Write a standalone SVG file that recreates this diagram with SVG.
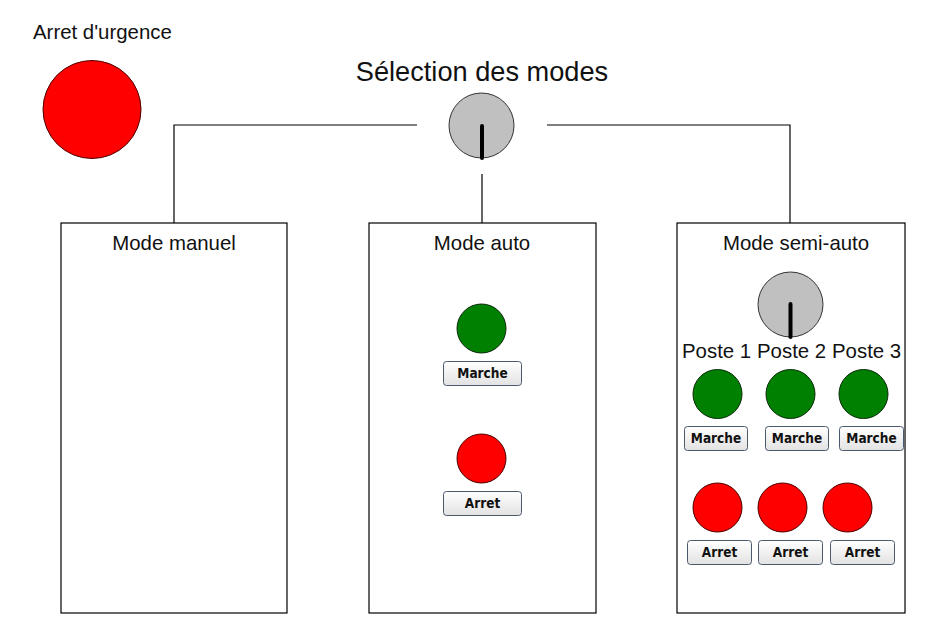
<svg xmlns="http://www.w3.org/2000/svg" width="950" height="624" viewBox="0 0 950 624">
<defs>
<linearGradient id="btn" x1="0" y1="0" x2="0" y2="1">
<stop offset="0" stop-color="#ffffff"/>
<stop offset="1" stop-color="#e2e2e2"/>
</linearGradient>
<style>
.lbl{font-family:"Liberation Sans",Arial,sans-serif;font-size:20.4px;fill:#111}
.box{fill:#fff;stroke:#000;stroke-width:1.2}
.wire{fill:none;stroke:#000;stroke-width:1.2}
.red{fill:#ff0000;stroke:#4a0000;stroke-width:1}
.green{fill:#008000;stroke:#0a2a0a;stroke-width:1}
.knob{fill:#c0c0c0;stroke:#333;stroke-width:1}
.needle{stroke:#000;stroke-width:4;stroke-linecap:round}
.btn rect{fill:url(#btn);stroke:#4a5a6e;stroke-width:1}
.btn text{font-family:"DejaVu Sans Condensed","DejaVu Sans",Tahoma,sans-serif;font-weight:bold;font-size:13.5px;fill:#111;text-anchor:middle}
</style>
</defs>
<rect width="950" height="624" fill="#fff"/>

<g id="connectors">
<path class="wire" d="M417,125 H174 V223"/>
<path class="wire" d="M547,125 H790 V223"/>
<path class="wire" d="M482,174 V223"/>
</g>

<g id="arret-urgence">
<text class="lbl" x="33" y="39">Arret d'urgence</text>
<circle class="red" cx="92" cy="109.5" r="49"/>
</g>

<g id="selection-modes">
<text class="lbl" x="482" y="81" text-anchor="middle" style="font-size:27.2px">Sélection des modes</text>
<circle class="knob" cx="481.5" cy="125.5" r="32.5"/>
<line class="needle" x1="482" y1="126" x2="482" y2="158"/>
</g>

<g id="mode-manuel">
<rect class="box" x="61" y="223" width="226" height="390"/>
<text class="lbl" x="174" y="250" text-anchor="middle">Mode manuel</text>
</g>

<g id="mode-auto">
<rect class="box" x="369" y="223" width="227" height="390"/>
<text class="lbl" x="482" y="250" text-anchor="middle">Mode auto</text>
<circle class="green" cx="481.5" cy="328.5" r="24.5"/>
<g class="btn"><rect x="443.5" y="361.5" width="78" height="24" rx="3"/><text x="482.5" y="378">Marche</text></g>
<circle class="red" cx="481.5" cy="458.5" r="24.5"/>
<g class="btn"><rect x="443.5" y="491.5" width="78" height="24" rx="3"/><text x="482.5" y="508">Arret</text></g>
</g>

<g id="mode-semi-auto">
<rect class="box" x="677" y="223" width="228" height="390"/>
<text class="lbl" x="796" y="250" text-anchor="middle">Mode semi-auto</text>
<circle class="knob" cx="790.5" cy="304.5" r="32.5"/>
<line class="needle" x1="790.5" y1="304" x2="790.5" y2="337"/>
<text class="lbl" x="682" y="358">Poste 1</text>
<text class="lbl" x="757" y="358">Poste 2</text>
<text class="lbl" x="832" y="358">Poste 3</text>
<circle class="green" cx="717.5" cy="394" r="24.5"/>
<circle class="green" cx="790.5" cy="394" r="24.5"/>
<circle class="green" cx="863.5" cy="394" r="24.5"/>
<g class="btn"><rect x="684.5" y="426.5" width="63" height="24" rx="3"/><text x="716" y="443">Marche</text></g>
<g class="btn"><rect x="765.5" y="426.5" width="63" height="24" rx="3"/><text x="797" y="443">Marche</text></g>
<g class="btn"><rect x="839.5" y="426.5" width="64" height="24" rx="3"/><text x="871.5" y="443">Marche</text></g>
<circle class="red" cx="717.5" cy="507.5" r="24.5"/>
<circle class="red" cx="782.5" cy="507.5" r="24.5"/>
<circle class="red" cx="847.5" cy="507.5" r="24.5"/>
<g class="btn"><rect x="687.5" y="540.5" width="64" height="24" rx="3"/><text x="719.5" y="557">Arret</text></g>
<g class="btn"><rect x="758.5" y="540.5" width="64" height="24" rx="3"/><text x="790.5" y="557">Arret</text></g>
<g class="btn"><rect x="830.5" y="540.5" width="64" height="24" rx="3"/><text x="862.5" y="557">Arret</text></g>
</g>
</svg>
